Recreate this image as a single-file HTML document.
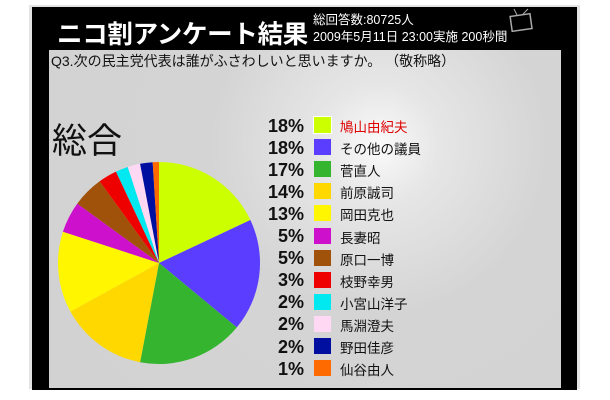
<!DOCTYPE html>
<html><head><meta charset="utf-8"><style>
html,body{margin:0;padding:0;background:#fff;width:610px;height:400px;overflow:hidden;font-family:"Liberation Sans","Noto Sans CJK JP",sans-serif}
#outer{position:absolute;left:29px;top:5px;width:551px;height:384px;background:#e4e4e4}
#frame{position:absolute;left:32px;top:7px;width:545px;height:383px;background:#000}
#panel{position:absolute;left:49px;top:50px;width:512px;height:338px;background:radial-gradient(circle at 330px 95px,#fafafa 0,#e6e6e6 60px,#d4d4d4 170px,#d2d2d2 100%)}
.t{position:absolute;white-space:nowrap}
</style></head><body>
<div id="outer"></div>
<div id="frame"></div>
<div class="t" style="left:57px;top:14px;font-size:25.5px;font-weight:bold;color:#fff;letter-spacing:-0.3px">ニコ割アンケート結果</div>
<div class="t" style="left:313px;top:12px;font-size:12.5px;color:#fff;line-height:17px">総回答数:80725人<br>2009年5月11日 23:00実施 200秒間</div>
<svg style="position:absolute;left:508px;top:8px" width="26" height="24"><rect x="3" y="7" width="20" height="15" fill="none" stroke="#aaa" stroke-width="1.5" transform="rotate(-8 13 14)"/><line x1="9" y1="7" x2="6" y2="1" stroke="#aaa"/><line x1="15" y1="6" x2="20" y2="1" stroke="#aaa"/></svg>
<div id="panel"></div>
<div class="t" style="left:51px;top:51px;font-size:14px;color:#111">Q3.次の民主党代表は誰がふさわしいと思いますか。 （敬称略）</div>
<div class="t" style="left:52px;top:113px;font-size:35px;color:#111">総合</div>
<svg style="position:absolute;left:0;top:0" width="610" height="400" id="pie"></svg>
<div id="leg"></div>
<script>
var d=[[18,"#ccff00","鳩山由紀夫"],[18,"#5b3dff","その他の議員"],[17,"#35b52f","菅直人"],[14,"#ffd800","前原誠司"],[13,"#fff600","岡田克也"],[5,"#cc10cc","長妻昭"],[5,"#a0520a","原口一博"],[3,"#ee0000","枝野幸男"],[2,"#00e8f0","小宮山洋子"],[2,"#ffd8f4","馬淵澄夫"],[2,"#000fa0","野田佳彦"],[1,"#ff6a00","仙谷由人"]];
var cx=159,cy=263,r=101,a=0,s="",L="";
d.forEach(function(e,i){var a2=a+e[0]/100*2*Math.PI;
var x1=cx+r*Math.sin(a),y1=cy-r*Math.cos(a),x2=cx+r*Math.sin(a2),y2=cy-r*Math.cos(a2);
s+='<path d="M'+cx+','+cy+'L'+x1+','+y1+'A'+r+','+r+' 0 '+((a2-a)>Math.PI?1:0)+' 1 '+x2+','+y2+'Z" fill="'+e[1]+'"/>';a=a2;
var y=117+i*22.1;
L+='<div class="t" style="left:248px;top:'+(y-1.5)+'px;width:56px;text-align:right;font-weight:bold;font-size:18px;color:#111">'+e[0]+'%</div>';
L+='<div class="t" style="left:314px;top:'+y+'px;width:17px;height:16px;background:'+e[1]+(i==0?';box-shadow:0 0 0 1px #fff':'')+'"></div>';
L+='<div class="t" style="left:340px;top:'+(y-1)+'px;font-size:13.5px;color:'+(i==0?'#d00':'#111')+'">'+e[2]+'</div>';});
document.getElementById('pie').innerHTML=s;document.getElementById('leg').innerHTML=L;
</script>
</body></html>
